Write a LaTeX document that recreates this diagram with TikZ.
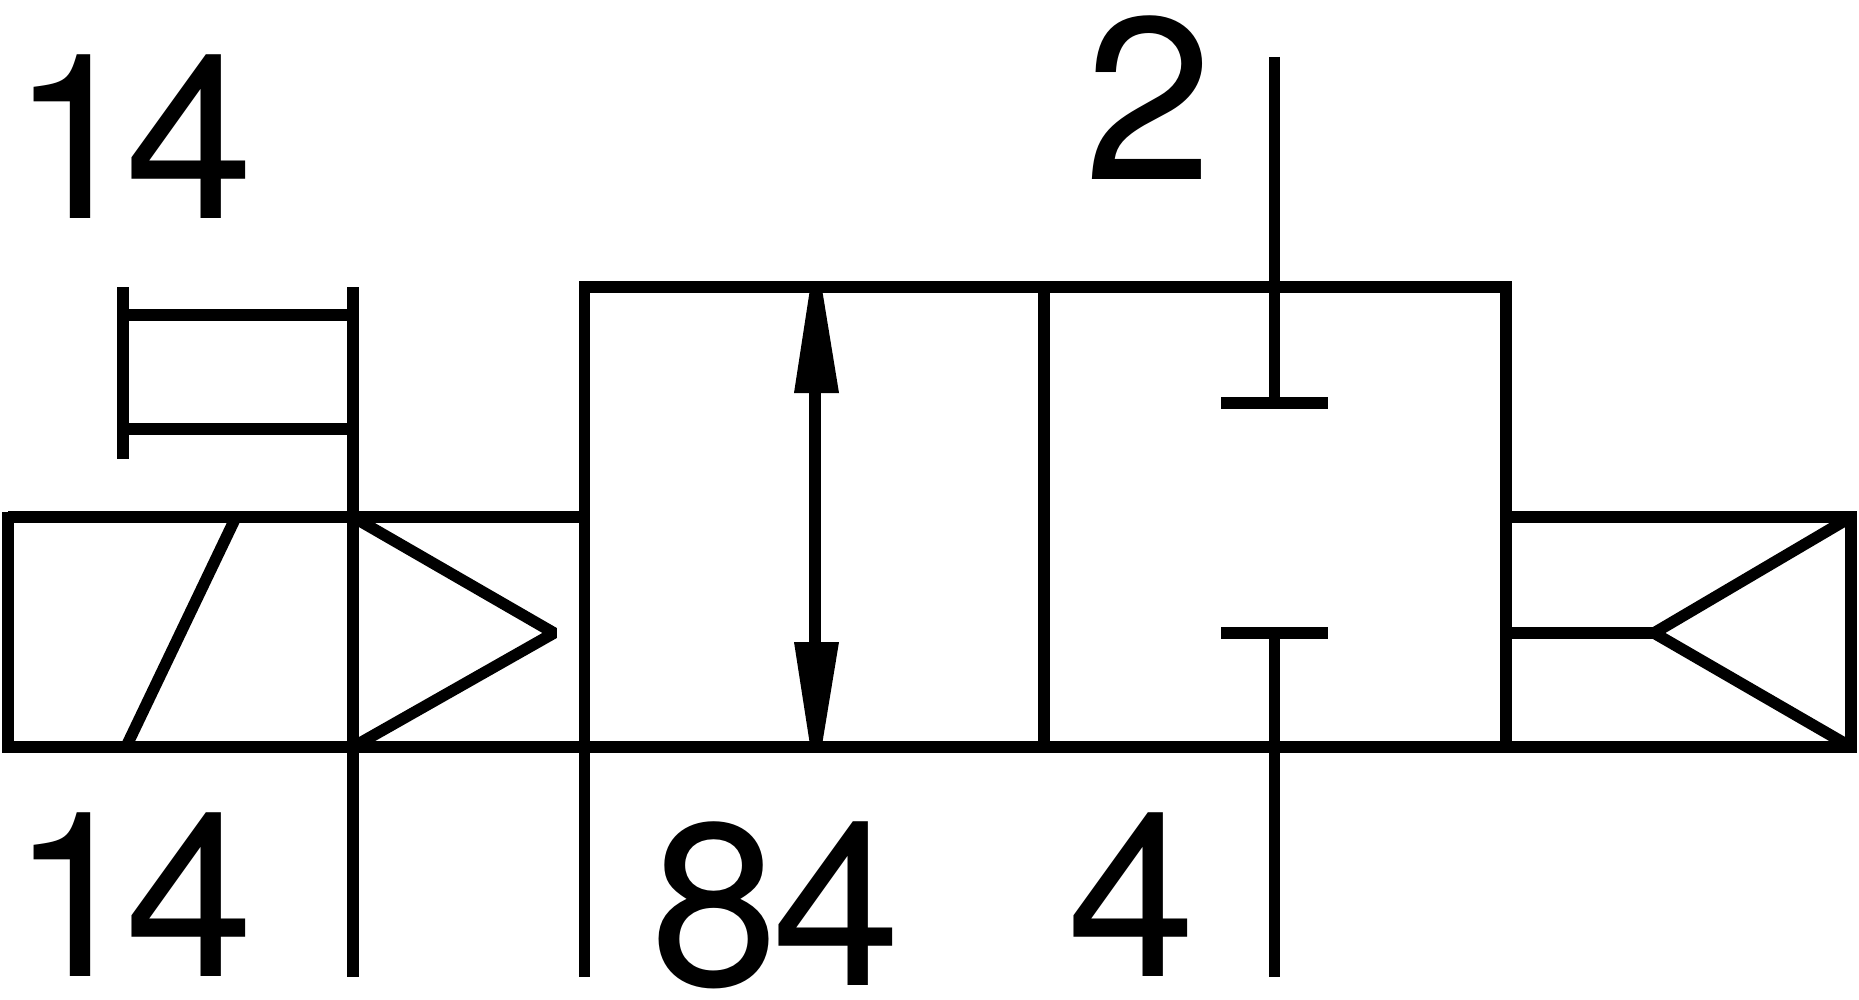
\documentclass[tikz,border=0pt]{standalone}
\usepackage{fontspec}
\setmainfont{TeX Gyre Heros}
\tikzset{
  sym/.style={draw=black,line width=11.5pt,line cap=butt,line join=miter},
  lbl/.style={anchor=base west,inner sep=0pt,outer sep=0pt,font=\fontsize{231pt}{231pt}\selectfont,text=black},
  head/.style={fill=black,draw=none}
}
\begin{document}
\begin{tikzpicture}[x=1pt,y=-1pt]
\useasboundingbox (0,0) rectangle (1859,1000);
\fill[white] (0,0) rectangle (1859,1000);
\coordinate (tl) at (584.5,287);
\coordinate (tr) at (1506,287);
\coordinate (bl) at (584.5,747);
\coordinate (br) at (1506,747);
% main valve box
\draw[sym] (tl) -- (tr) -- (br) -- (bl) -- cycle;
\draw[sym] (1044,287) -- (1044,747);
% left actuator
\draw[sym] (8,517) -- (584.5,517);
\draw[sym] (8,512) -- (8,752);
\draw[sym] (2,747) -- (584.5,747);
\draw[sym] (235,519) -- (126,747);
\draw[sym] (353,287) -- (353,977);
\draw[sym] (584.5,747) -- (584.5,977);
\draw[sym,line join=bevel] (353,517) -- (554,633) -- (353,747);
% manual override
\draw[sym] (123,287) -- (123,459);
\draw[sym] (123,315) -- (353,315);
\draw[sym] (123,429) -- (353,429);
% flow arrow
\draw[sym] (815,340) -- (815,690);
\fill[head] (810,289) -- (822,289) -- (839,393) -- (794,393) -- cycle;
\fill[head] (810,745) -- (822,745) -- (839,642) -- (794,642) -- cycle;
% blocked ports
\draw[sym] (1274.5,57) -- (1274.5,403);
\draw[sym] (1221,403) -- (1328,403);
\draw[sym] (1274.5,633) -- (1274.5,977);
\draw[sym] (1221,633) -- (1328,633);
% right actuator
\draw[sym] (1506,517) -- (1851,517) -- (1851,747) -- (1506,747);
\draw[sym] (1506,633) -- (1654,633);
\draw[sym,line join=bevel] (1851,517) -- (1654,633) -- (1851,747);
% labels
\node[lbl] (a) at (10,219) {1\kern-13pt 4};
\node[lbl] (b) at (10,976) {1\kern-13pt 4};
\node[lbl] (c) at (1084,180) {2};
\node[lbl] (d) at (650,985) {8\kern-6pt 4};
\node[lbl] (e) at (1067,976) {4};
\end{tikzpicture}
\end{document}
